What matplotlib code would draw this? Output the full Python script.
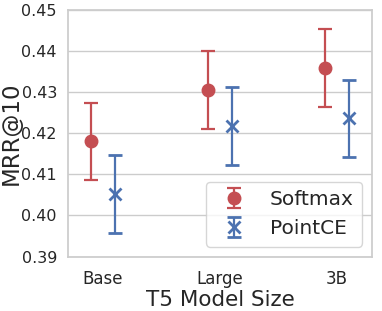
import matplotlib
matplotlib.use("Agg")
import matplotlib.pyplot as plt
import seaborn as sns
import numpy as np

categories = ["Base", "Large", "3B"]
softmax_mean = [0.4180, 0.4305, 0.4358]
softmax_err = [0.0094, 0.0094, 0.0095]
pointce_mean = [0.4052, 0.4218, 0.4236]
pointce_err = [0.0094, 0.0094, 0.0094]

sns.set_theme(style="whitegrid")
plt.rcParams['font.family'] = ['DejaVu Sans']

fig, ax = plt.subplots(figsize=(3.82, 3.11), dpi=100)
x = np.arange(len(categories))
red = "#C44E52"
blue = "#4C72B0"
ax.errorbar(x - 0.1, softmax_mean, yerr=softmax_err, fmt='o', color=red,
            markersize=9, capsize=5, elinewidth=1.6, capthick=1.6, label="Softmax")
ax.errorbar(x + 0.1, pointce_mean, yerr=pointce_err, fmt='x', color=blue,
            markersize=8, markeredgewidth=2, capsize=5, elinewidth=1.6, capthick=1.6, label="PointCE")

ax.set_xlim(-0.3, 2.3)
ax.set_ylim(0.39, 0.45)
ax.set_yticks([0.39, 0.40, 0.41, 0.42, 0.43, 0.44, 0.45])
ax.set_yticklabels(["0.39", "0.40", "0.41", "0.42", "0.43", "0.44", "0.45"])
ax.set_xticks(x)
ax.set_xticklabels(categories)
ax.tick_params(axis='x', labelsize=12, colors='#262626', pad=4)
ax.tick_params(axis='y', labelsize=11.5, colors='#262626', pad=2)
ax.grid(axis='x', visible=False)
ax.set_xlabel("T5 Model Size", fontsize=15.5, color='#262626', labelpad=1)
ax.set_ylabel("MRR@10", fontsize=16.5, color='#262626')
ax.yaxis.set_label_coords(-0.148, 0.5)
ax.legend(loc='lower right', fontsize=14.5, borderaxespad=0.5)

fig.subplots_adjust(left=0.178, right=0.974, top=0.968, bottom=0.175)
fig.savefig("out.png", dpi=100)
